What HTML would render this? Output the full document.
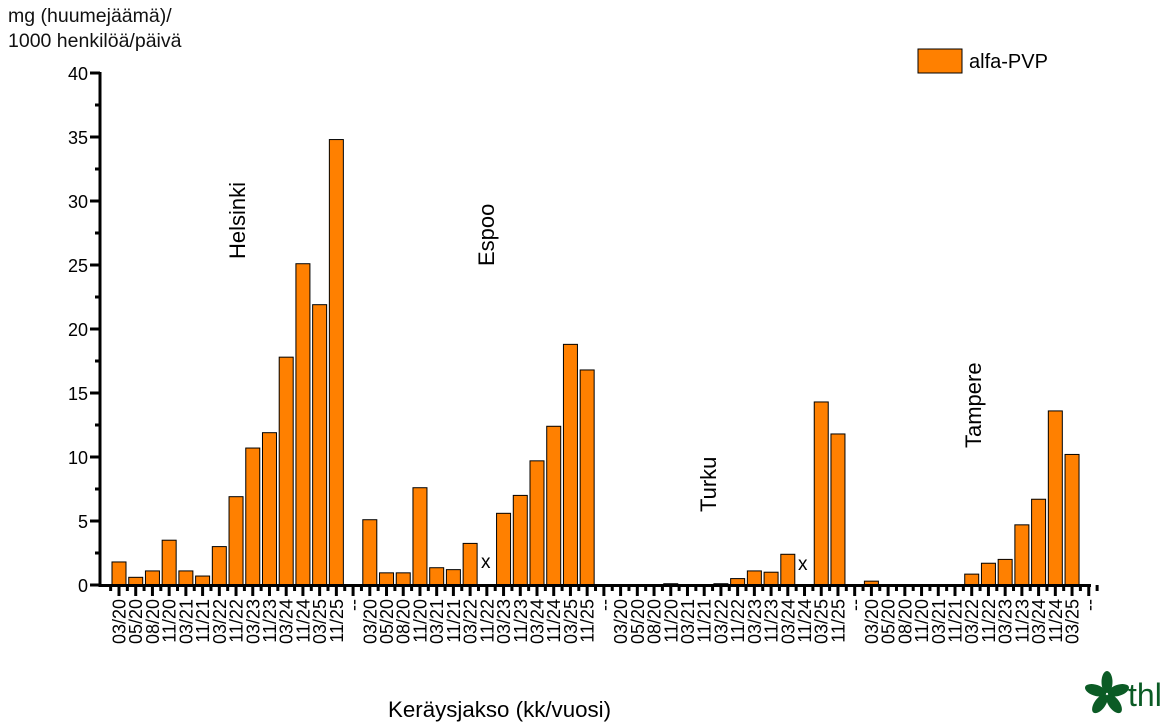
<!DOCTYPE html>
<html><head><meta charset="utf-8"><style>
body{margin:0;background:#fff;}
svg{display:block;font-family:"Liberation Sans",Arial,sans-serif;}
</style></head><body>
<svg id="s" width="1172" height="724" viewBox="0 0 1172 724" xmlns="http://www.w3.org/2000/svg">
<text x="8" y="22" font-size="19.5" fill="#111">mg (huumejäämä)/</text>
<text x="8" y="47" font-size="19.5" fill="#111">1000 henkilöä/päivä</text>
<g font-size="18" text-anchor="end" fill="#000">
<text x="88" y="80">40</text><text x="88" y="144">35</text><text x="88" y="208">30</text><text x="88" y="272">25</text><text x="88" y="336">20</text><text x="88" y="400">15</text><text x="88" y="464">10</text><text x="88" y="528">5</text><text x="88" y="592">0</text>
</g>
<g id="bars"></g>
<g id="ticks" stroke="#000" stroke-width="3"></g>
<line x1="100" y1="72" x2="100" y2="587" stroke="#000" stroke-width="3"/>
<line x1="99" y1="585.5" x2="1091" y2="585.5" stroke="#000" stroke-width="3"/>
<g id="labels" font-size="18" text-anchor="end" fill="#000">
<text>03/20</text><text>05/20</text><text>08/20</text><text>11/20</text><text>03/21</text><text>11/21</text><text>03/22</text><text>11/22</text><text>03/23</text><text>11/23</text><text>03/24</text><text>11/24</text><text>03/25</text><text>11/25</text><text>--</text>
<text>03/20</text><text>05/20</text><text>08/20</text><text>11/20</text><text>03/21</text><text>11/21</text><text>03/22</text><text>11/22</text><text>03/23</text><text>11/23</text><text>03/24</text><text>11/24</text><text>03/25</text><text>11/25</text><text>--</text>
<text>03/20</text><text>05/20</text><text>08/20</text><text>11/20</text><text>03/21</text><text>11/21</text><text>03/22</text><text>11/22</text><text>03/23</text><text>11/23</text><text>03/24</text><text>11/24</text><text>03/25</text><text>11/25</text><text>--</text>
<text>03/20</text><text>05/20</text><text>08/20</text><text>11/20</text><text>03/21</text><text>11/21</text><text>03/22</text><text>11/22</text><text>03/23</text><text>11/23</text><text>03/24</text><text>11/24</text><text>03/25</text><text>--</text>
</g>
<g font-size="22" fill="#000">
<text transform="translate(245,259) rotate(-90)">Helsinki</text>
<text transform="translate(494,266) rotate(-90)">Espoo</text>
<text transform="translate(716,512) rotate(-90)">Turku</text>
<text transform="translate(981,448) rotate(-90)">Tampere</text>
<text x="481" y="568" font-size="19">x</text>
<text x="798" y="570" font-size="19">x</text>
</g>
<rect x="918" y="49" width="44" height="24" fill="#ff8000" stroke="#000" stroke-width="1"/>
<text x="969" y="68" font-size="20">alfa-PVP</text>
<text x="388" y="717" font-size="22.3">Keräysjakso (kk/vuosi)</text>
<g fill="#0b5b25" transform="translate(1107,694)">
<ellipse cx="0" cy="-12" rx="5.5" ry="11"/>
<ellipse cx="0" cy="-12" rx="5.5" ry="11" transform="rotate(72)"/>
<ellipse cx="0" cy="-12" rx="5.5" ry="11" transform="rotate(144)"/>
<ellipse cx="0" cy="-12" rx="5.5" ry="11" transform="rotate(216)"/>
<ellipse cx="0" cy="-12" rx="5.5" ry="11" transform="rotate(288)"/>
</g>
<text x="1128" y="706" font-size="32" fill="#0b5b25">thl</text>
</svg>
<script>
var ns="http://www.w3.org/2000/svg";
function c(i){return 119+16.72*i;}
var vals={0:1.8,1:0.6,2:1.1,3:3.5,4:1.1,5:0.7,6:3.0,7:6.9,8:10.7,9:11.9,10:17.8,11:25.1,12:21.9,13:34.8,
15:5.1,16:0.95,17:0.95,18:7.6,19:1.35,20:1.2,21:3.25,23:5.6,24:7.0,25:9.7,26:12.4,27:18.8,28:16.8,
33:0.1,36:0.1,37:0.5,38:1.1,39:1.0,40:2.4,42:14.3,43:11.8,
45:0.3,51:0.85,52:1.7,53:2.0,54:4.7,55:6.7,56:13.6,57:10.2};
var b=document.getElementById('bars');
for(var k in vals){var v=vals[k],h=v*12.8,r=document.createElementNS(ns,'rect');
r.setAttribute('x',c(+k)-7);r.setAttribute('y',585-h);r.setAttribute('width',14);r.setAttribute('height',h);
r.setAttribute('fill','#ff8000');r.setAttribute('stroke','#000');r.setAttribute('stroke-width','1');b.appendChild(r);}
var t=document.getElementById('ticks');
function ln(x1,y1,x2,y2){var l=document.createElementNS(ns,'line');l.setAttribute('x1',x1);l.setAttribute('y1',y1);l.setAttribute('x2',x2);l.setAttribute('y2',y2);t.appendChild(l);}
for(var i=0;i<59;i++){ln(c(i),585,c(i),596);ln(c(i)+8.36,585,c(i)+8.36,591);}
ln(c(0)-8.36,585,c(0)-8.36,591);
for(var j=0;j<=16;j++){var y=585-j*32;ln(j%2?95:90,y,100,y);}
var L=document.getElementById('labels').children;
for(var i=0;i<L.length;i++){L[i].setAttribute('transform','translate('+(c(i)+6.5)+',599) rotate(-90)');}
</script>
</body></html>
